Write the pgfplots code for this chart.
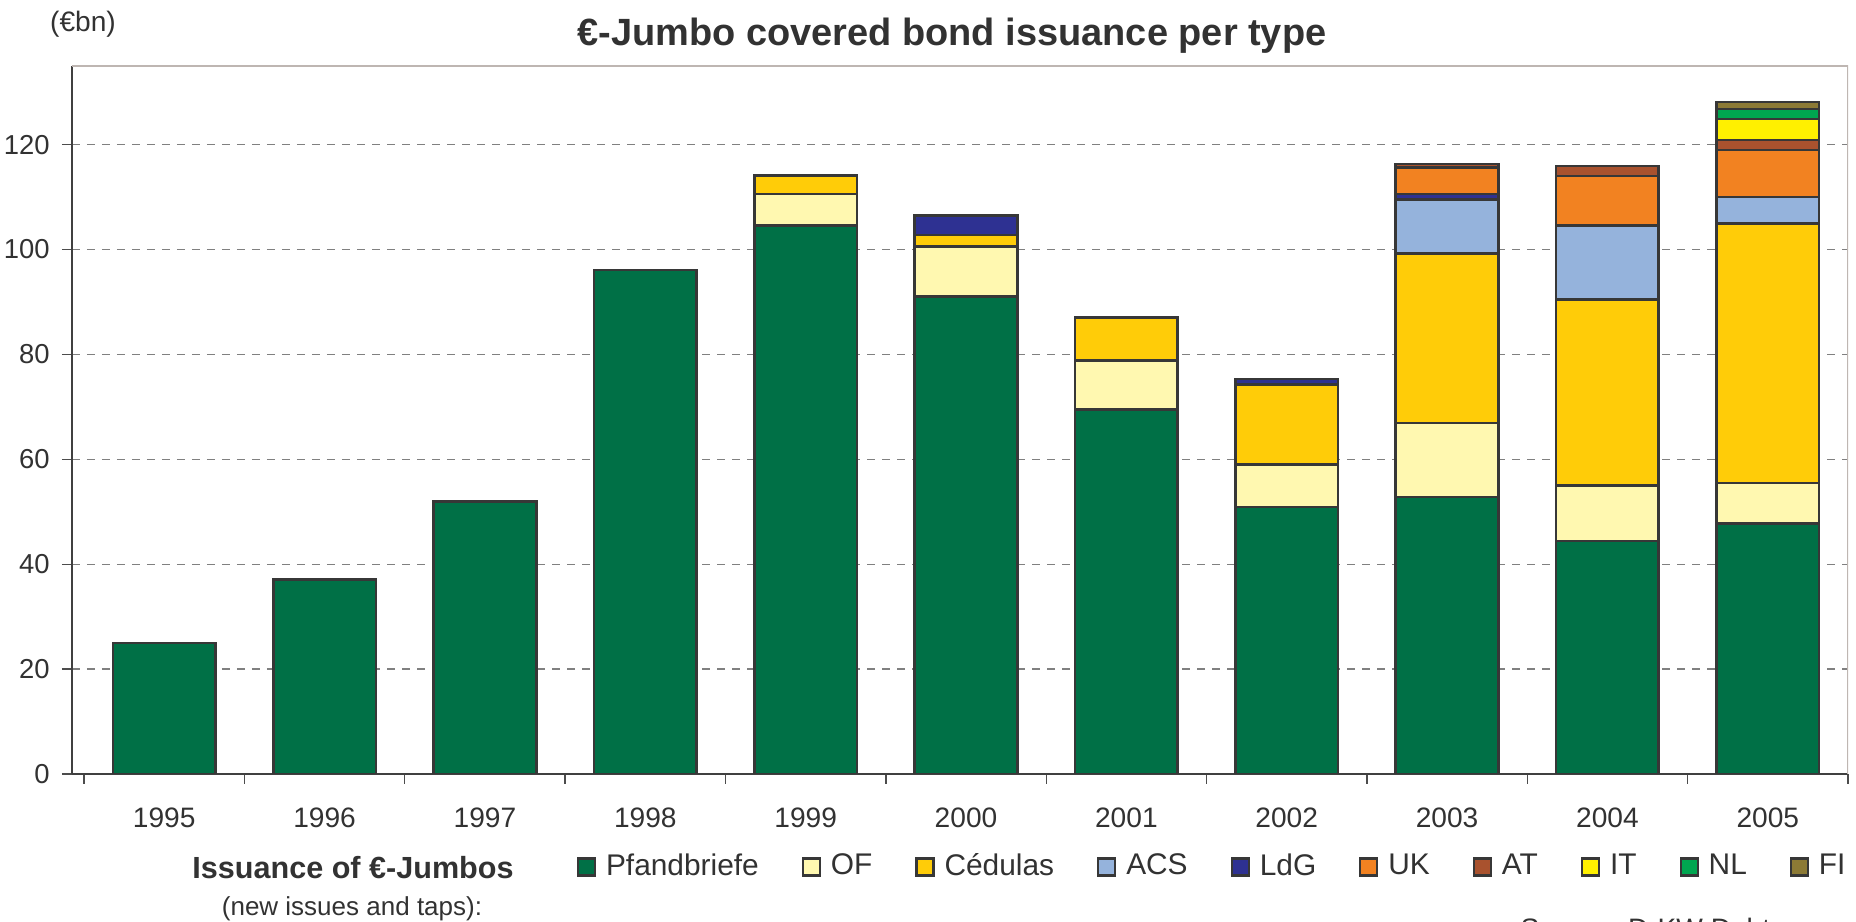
\documentclass[border=0pt]{standalone}
\usepackage{pgfplots}
\pgfplotsset{compat=1.18}
\usepackage{fontspec}
\setmainfont{Liberation Sans}
\definecolor{cPf}{RGB}{0,112,70}
\definecolor{cOF}{RGB}{255,248,176}
\definecolor{cCed}{RGB}{255,204,8}
\definecolor{cACS}{RGB}{149,179,220}
\definecolor{cLdG}{RGB}{46,49,146}
\definecolor{cUK}{RGB}{242,130,33}
\definecolor{cAT}{RGB}{169,82,46}
\definecolor{cIT}{RGB}{255,240,0}
\definecolor{cNL}{RGB}{0,166,80}
\definecolor{cFI}{RGB}{140,122,53}
\definecolor{txt}{RGB}{50,50,50}
\definecolor{edge}{RGB}{55,55,55}
\definecolor{frame}{RGB}{190,182,178}
\begin{document}
\begin{tikzpicture}
\useasboundingbox (0,0) rectangle (185.6mm,92.2mm);
\begin{axis}[
  at={(7.2mm,14.8mm)}, anchor=south west,
  scale only axis, width=177.6mm, height=70.8mm,
  ybar stacked, bar width=0.64,
  xmin=-0.575, xmax=10.5, ymin=0, ymax=135,
  axis lines=left,
  axis line style={-, draw=black!75, line width=0.4pt},
  ytick={0,20,...,120},
  ymajorgrids,
  grid style={draw=black!50, line width=0.35pt, dash pattern=on 0.83mm off 0.67mm},
  tick align=outside, major tick length=1mm,
  tick style={draw=black!70, line width=0.4pt},
  xtick={-0.5,0.5,...,10.5}, xticklabels={},
  extra x ticks={0,1,2,3,4,5,6,7,8,9,10},
  extra x tick labels={1995,1996,1997,1998,1999,2000,2001,2002,2003,2004,2005},
  extra x tick style={major tick length=0pt, grid=none},
  x tick label style={font=\fontsize{8}{9.6}\selectfont, text=txt, anchor=base, yshift=-5.4mm},
  y tick label style={font=\fontsize{7.8}{9.4}\selectfont, text=txt},
  /pgf/number format/assume math mode=true,
  every axis plot/.append style={draw=edge, line width=0.75pt},
  legend image code/.code={\draw[#1, line width=0.6pt] (0mm,-0.85mm) rectangle (1.7mm,0.85mm);},
  legend columns=-1,
  legend style={at={(axis description cs:0.2843,-0.1314)}, anchor=west,
    draw=none, fill=none, inner sep=0pt, outer sep=0pt,
    font=\fontsize{8.5}{10}\selectfont, text=txt,
    nodes={inner sep=0pt},
    /tikz/every even column/.append style={column sep=4.3mm},
    /tikz/every odd column/.append style={column sep=1mm}},
]
\addplot[fill=cPf] coordinates {(0,25.0) (1,37.1) (2,52.0) (3,96.1) (4,104.6) (5,91.1) (6,69.5) (7,50.9) (8,52.8) (9,44.4) (10,47.8)};
\addplot[fill=cOF] coordinates {(0,0) (1,0) (2,0) (3,0) (4,6.0) (5,9.5) (6,9.4) (7,8.1) (8,14.1) (9,10.6) (10,7.7)};
\addplot[fill=cCed] coordinates {(0,0) (1,0) (2,0) (3,0) (4,3.5) (5,2.2) (6,8.2) (7,15.3) (8,32.3) (9,35.5) (10,49.5)};
\addplot[fill=cACS] coordinates {(0,0) (1,0) (2,0) (3,0) (4,0) (5,0) (6,0) (7,0) (8,10.4) (9,14.1) (10,5.0)};
\addplot[fill=cLdG] coordinates {(0,0) (1,0) (2,0) (3,0) (4,0) (5,3.7) (6,0) (7,1.0) (8,1.0) (9,0) (10,0)};
\addplot[fill=cUK] coordinates {(0,0) (1,0) (2,0) (3,0) (4,0) (5,0) (6,0) (7,0) (8,5.0) (9,9.4) (10,9.0)};
\addplot[fill=cAT] coordinates {(0,0) (1,0) (2,0) (3,0) (4,0) (5,0) (6,0) (7,0) (8,0.7) (9,1.9) (10,1.9)};
\addplot[fill=cIT] coordinates {(0,0) (1,0) (2,0) (3,0) (4,0) (5,0) (6,0) (7,0) (8,0) (9,0) (10,4.0)};
\addplot[fill=cNL] coordinates {(0,0) (1,0) (2,0) (3,0) (4,0) (5,0) (6,0) (7,0) (8,0) (9,0) (10,1.9)};
\addplot[fill=cFI] coordinates {(0,0) (1,0) (2,0) (3,0) (4,0) (5,0) (6,0) (7,0) (8,0) (9,0) (10,1.3)};
\legend{Pfandbriefe,OF,Cédulas,ACS,LdG,UK,AT,IT,NL,FI}
\draw[frame, line width=0.4pt] (rel axis cs:0,1) -- (rel axis cs:1,1) -- (rel axis cs:1,0);
\end{axis}
\node[anchor=base, font=\bfseries\fontsize{10.8}{13}\selectfont, text=txt] at (95.2mm,87.6mm) {€-Jumbo covered bond issuance per type};
\node[anchor=base, font=\fontsize{8}{9.6}\selectfont, text=txt] at (8.3mm,89.0mm) {(€bn)};
\node[anchor=base, font=\bfseries\fontsize{8.7}{10.4}\selectfont, text=txt] at (35.3mm,4.3mm) {Issuance of €-Jumbos};
\node[anchor=base, font=\fontsize{7.4}{8.9}\selectfont, text=txt] at (35.2mm,0.6mm) {(new issues and taps):};
\node[anchor=base west, inner sep=0pt, font=\fontsize{8}{9.6}\selectfont, text=txt] at (152.0mm,-1.7mm) {Source: DrKW Debt research};
\end{tikzpicture}
\end{document}
